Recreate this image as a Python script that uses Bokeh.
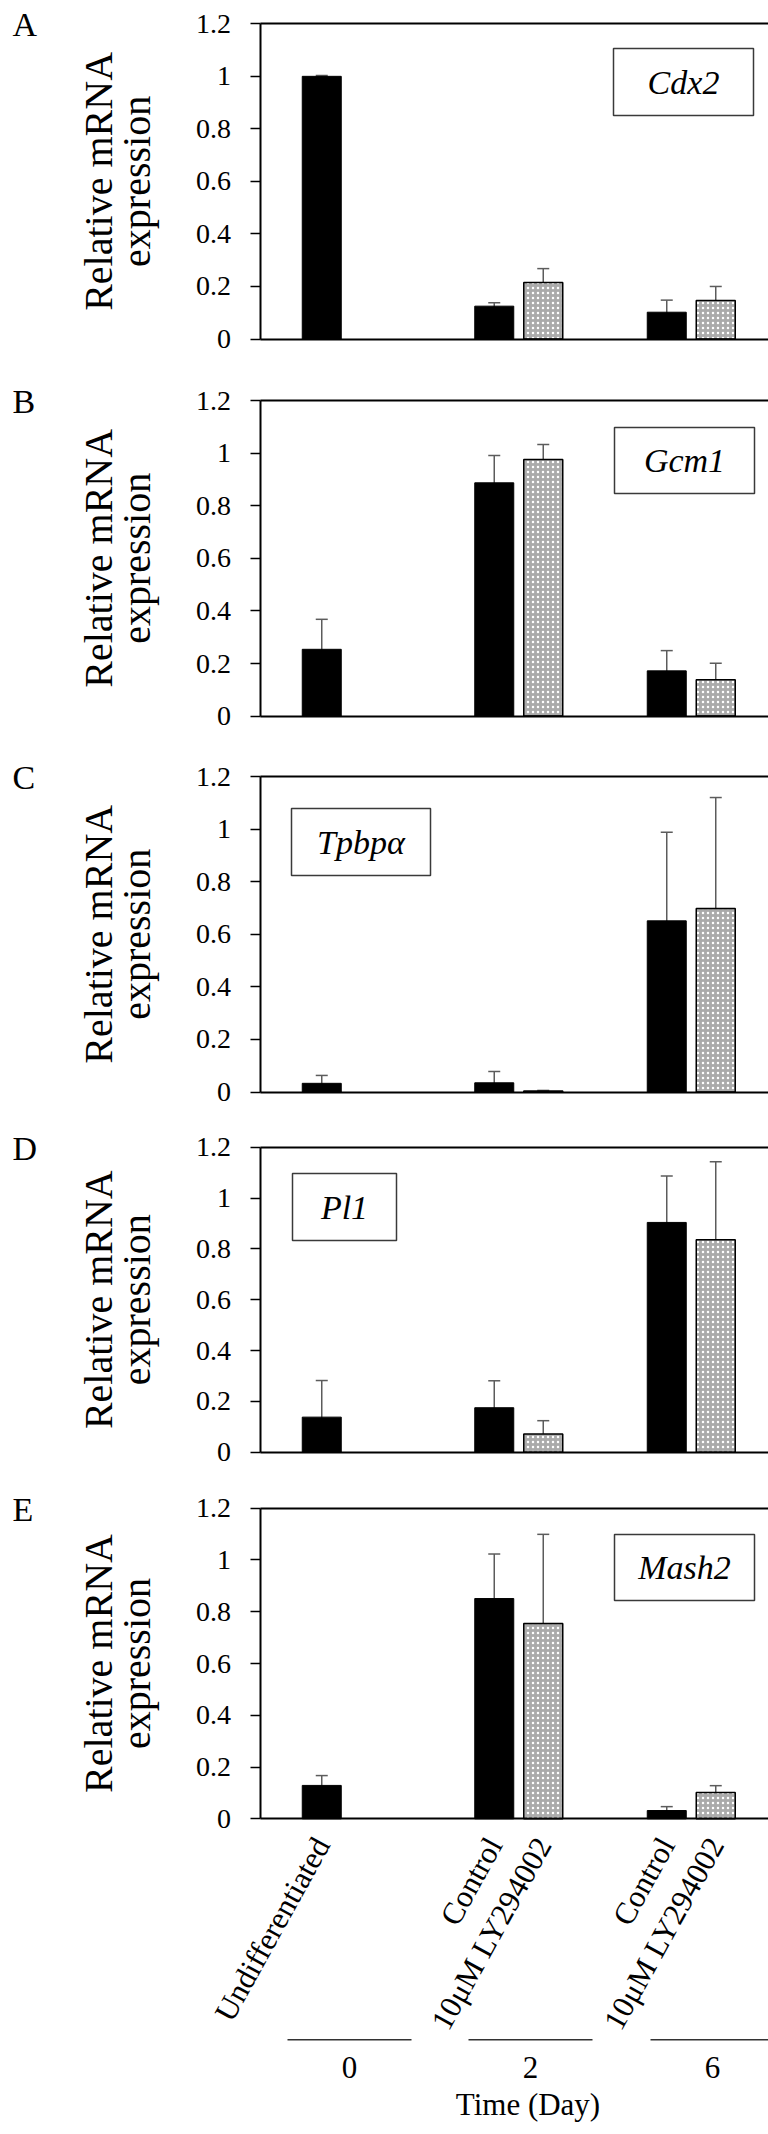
import math
from bokeh.plotting import figure
from bokeh.models import (Range1d, FixedTicker, LinearAxis, Whisker, TeeHead,
                          ColumnDataSource, BoxAnnotation, Label, NumeralTickFormatter,
                          CustomJSTickFormatter)
from bokeh.layouts import column
from bokeh.embed import file_html
from bokeh.resources import INLINE
from bokeh.core.properties import value

# ---------------- data ----------------
letters = ["A", "B", "C", "D", "E"]
genes = ["Cdx2", "Gcm1", "Tpbpα", "Pl1", "Mash2"]
bar_labels = ["Undifferentiated", "Control", "10μM LY294002", "Control", "10μM LY294002"]
bar_day_index = [0, 1, 1, 2, 2]
bar_series = ["Control", "Control", "LY294002", "Control", "LY294002"]
days = ["0", "2", "6"]
x_title = "Time (Day)"
y_title_lines = ["Relative mRNA", "expression"]
y_ticks = [0, 0.2, 0.4, 0.6, 0.8, 1.0, 1.2]

cdx2_mean = [1.000, 0.125, 0.215, 0.102, 0.147]
cdx2_sd = [0.003, 0.013, 0.053, 0.046, 0.053]
gcm1_mean = [0.254, 0.887, 0.976, 0.172, 0.138]
gcm1_sd = [0.114, 0.104, 0.057, 0.077, 0.063]
tpbpa_mean = [0.033, 0.035, 0.004, 0.651, 0.698]
tpbpa_sd = [0.030, 0.043, 0.002, 0.337, 0.422]
pl1_mean = [0.138, 0.175, 0.072, 0.904, 0.836]
pl1_sd = [0.144, 0.106, 0.052, 0.183, 0.307]
mash2_mean = [0.129, 0.851, 0.755, 0.032, 0.102]
mash2_sd = [0.038, 0.172, 0.344, 0.015, 0.026]

means = [cdx2_mean, gcm1_mean, tpbpa_mean, pl1_mean, mash2_mean]
sds = [cdx2_sd, gcm1_sd, tpbpa_sd, pl1_sd, mash2_sd]

# ---------------- layout / style ----------------
FONT = "Liberation Serif"
FIG_W = 768
AXIS_PX = 259.5            # page x of the value axis
CAT_PX = 172.5             # width of one day-category in pixels
SLOT = 24.5 / CAT_PX       # series offset inside a category
BAR_W = 39.0 / CAT_PX
X_END = (FIG_W - AXIS_PX) / CAT_PX
ERR_C = "#5c5c5c"
GRAY = "#ababab"

# page rows of each figure, and the page rows of each panel's 1.2 .. 0 span
fig_rows = [(0, 369), (369, 745), (745, 1119), (1119, 1480), (1480, 2134)]
frame_rows = [(23.3, 338.5), (400, 715.6), (776, 1091.5), (1146.7, 1451.7), (1507.7, 1818.3)]
# gene box (left, right, top, bottom) in page px
gene_boxes = [(613, 753, 48, 115), (614, 754, 427, 493), (291, 430, 808, 875),
              (292, 396, 1173, 1240), (614, 754, 1534, 1600)]


def px_x(px):
    return (px - AXIS_PX) / CAT_PX


x_range = Range1d(px_x(0), X_END)
bar_x = [bar_day_index[i] + 0.5 + (-SLOT if bar_series[i] == "Control" else SLOT)
         for i in range(len(bar_labels))]


def line_axis(loc, ticks=None):
    ax = LinearAxis(fixed_location=loc, bounds=(0, X_END),
                    ticker=FixedTicker(ticks=ticks or []))
    ax.major_tick_out = 0
    ax.major_tick_in = 0
    ax.minor_tick_out = 0
    ax.minor_tick_in = 0
    ax.axis_line_width = 2
    ax.axis_line_color = "black"
    if not ticks:
        ax.major_label_text_font_size = "0px"
    return ax


panels = []
for k in range(5):
    Y0, Y1 = fig_rows[k]
    top, bot = frame_rows[k]
    ppu = (bot - top) / 1.2

    def py(page_y, bot=bot, ppu=ppu):
        return (bot - page_y) / ppu

    p = figure(width=FIG_W, height=Y1 - Y0, x_range=x_range,
               y_range=Range1d(py(Y1), py(Y0)),
               output_backend="svg", toolbar_location=None,
               x_axis_type=None, y_axis_type=None,
               min_border_left=0, min_border_right=0,
               min_border_top=0, min_border_bottom=0,
               background_fill_color="white", border_fill_color="white",
               outline_line_color=None)

    # frame lines (top and baseline)
    p.add_layout(line_axis(1.2), "above")
    if k < 4:
        p.add_layout(line_axis(0), "below")

    ya = LinearAxis(fixed_location=0, bounds=(0, 1.2), ticker=FixedTicker(ticks=y_ticks),
                    formatter=NumeralTickFormatter(format="0.[0]"))
    ya.axis_line_width = 2
    ya.axis_line_color = "black"
    ya.major_tick_out = 10
    ya.major_tick_in = 0
    ya.minor_tick_out = 0
    ya.minor_tick_in = 0
    ya.major_tick_line_width = 1.5
    ya.major_tick_line_color = "black"
    ya.major_label_standoff = 19
    ya.major_label_text_font = FONT
    ya.major_label_text_font_size = "28px"
    ya.major_label_text_color = "black"
    p.add_layout(ya, "left")

    # y title (two lines, rotated); anchors at the middle of each text line
    ymid = py((top + bot) / 2)
    p.text(x=[px_x(98), px_x(136)], y=[ymid, ymid], text=y_title_lines,
           angle=math.pi / 2, text_align="center", text_baseline="middle",
           text_font=value(FONT), text_font_size="40px", text_color="black")
    # panel letter
    p.text(x=[px_x(12)], y=[py(top + 1)], text=[letters[k]], text_align="left",
           text_baseline="middle", text_font=value(FONT), text_font_size="34px",
           text_color="black")

    m = means[k]
    s = sds[k]
    ctrl = [i for i in range(5) if bar_series[i] == "Control"]
    ly = [i for i in range(5) if bar_series[i] != "Control"]
    p.vbar(x=[bar_x[i] for i in ctrl], top=[m[i] for i in ctrl], width=BAR_W,
           fill_color="black", line_color="black", line_width=1)
    p.vbar(x=[bar_x[i] for i in ly], top=[m[i] for i in ly], width=BAR_W,
           fill_color=GRAY, line_color="black", line_width=1.5,
           hatch_pattern="dot", hatch_color="white", hatch_scale=5, hatch_weight=1.5)

    esrc = ColumnDataSource(dict(x=bar_x,
                                 upper=[m[i] + s[i] for i in range(5)],
                                 lower=[max(m[i] - s[i], 0) for i in range(5)]))
    p.add_layout(Whisker(source=esrc, base="x", upper="upper", lower="lower",
                         dimension="height", line_color=ERR_C, line_width=1.5,
                         upper_head=TeeHead(size=12, line_color=ERR_C, line_width=1.5),
                         lower_head=TeeHead(size=12, line_color=ERR_C, line_width=1.5)))

    bl, br, btp, bbm = gene_boxes[k]
    p.add_layout(BoxAnnotation(left=px_x(bl), right=px_x(br), top=py(btp), bottom=py(bbm),
                               fill_color="white", fill_alpha=1.0,
                               line_color="#3a3a3a", line_width=1.5, line_alpha=1.0))
    p.add_layout(Label(x=px_x((bl + br) / 2), y=py((btp + bbm) / 2),
                       text=genes[k], text_font=FONT, text_font_size="34px",
                       text_font_style="italic", text_align="center",
                       text_baseline="middle", text_color="black"))

    if k == 4:
        # category axis with rotated labels
        xa = line_axis(0, ticks=bar_x)
        xa.formatter = CustomJSTickFormatter(args=dict(labels=bar_labels),
                                             code="return labels[index];")
        xa.major_label_orientation = math.radians(61)
        xa.major_label_standoff = 21
        xa.major_label_text_font = FONT
        xa.major_label_text_font_size = "31px"
        xa.major_label_text_color = "black"
        p.add_layout(xa, "below")

        # day axis (group labels) with axis title
        day_px = [349, 530, 712]
        day_x = [px_x(d) for d in day_px]
        half = 62 / CAT_PX
        sep_y = py(2039.3)
        p.segment(x0=[d - half for d in day_x], y0=[sep_y] * 3,
                  x1=[d + half for d in day_x], y1=[sep_y] * 3,
                  line_color="#333333", line_width=1.5)
        da = LinearAxis(fixed_location=sep_y, bounds=(day_x[0] - half, day_x[2] + half),
                        ticker=FixedTicker(ticks=day_x),
                        formatter=CustomJSTickFormatter(args=dict(labels=days),
                                                        code="return labels[index];"))
        da.axis_line_color = None
        da.major_tick_out = 0
        da.major_tick_in = 0
        da.minor_tick_out = 0
        da.minor_tick_in = 0
        da.major_label_standoff = 17
        da.major_label_text_font = FONT
        da.major_label_text_font_size = "31px"
        da.major_label_text_color = "black"
        da.axis_label = x_title
        da.axis_label_standoff = 6
        da.axis_label_text_font = FONT
        da.axis_label_text_font_size = "31px"
        da.axis_label_text_font_style = "normal"
        da.axis_label_text_color = "black"
        p.add_layout(da, "below")
    panels.append(p)

layout = column(*panels, spacing=0)
open("out.html", "w").write(file_html(layout, INLINE))
